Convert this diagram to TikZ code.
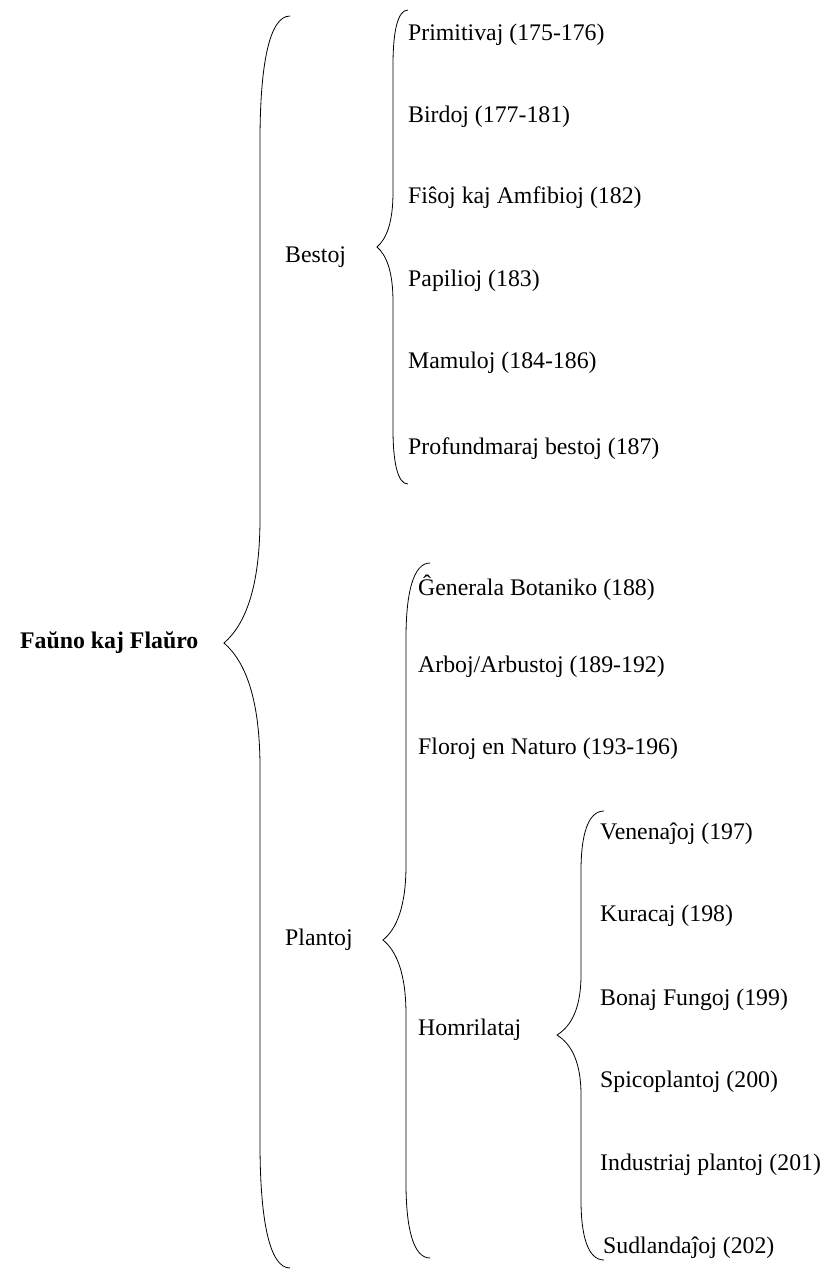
\documentclass[tikz,border=0pt]{standalone}
\usepackage{fontspec}
\setmainfont{Liberation Serif}
\tikzset{
  lbl/.style={anchor=west, inner sep=0pt, font=\fontsize{23.8}{28}\selectfont},
  rootlbl/.style={lbl, font=\fontsize{23.8}{28}\selectfont\bfseries},
  brace/.style={line width=0.8pt, black}
}
% #1 end x, #2 vertical x, #3 tip x, #4 top y, #5 tip y, #6 bottom y, #7 straight offset
\newcommand{\mybrace}[7]{%
  \draw[brace] (#1pt,-#4pt) .. controls ({#2pt+0.3*(#1pt-#2pt)},-#4pt) and (#2pt,{-#4pt-0.4*#7pt}) .. (#2pt,{-#4pt-#7pt})
    -- (#2pt,{-#5pt+#7pt})
    .. controls (#2pt,{-#5pt+0.45*#7pt}) and ({#2pt-0.4*(#2pt-#3pt)},{-#5pt+0.15*#7pt}) .. (#3pt,-#5pt)
    .. controls ({#2pt-0.4*(#2pt-#3pt)},{-#5pt-0.15*#7pt}) and (#2pt,{-#5pt-0.45*#7pt}) .. (#2pt,{-#5pt-#7pt})
    -- (#2pt,{-#6pt+#7pt})
    .. controls (#2pt,{-#6pt+0.4*#7pt}) and ({#2pt+0.3*(#1pt-#2pt)},-#6pt) .. (#1pt,-#6pt);}
\begin{document}
\begin{tikzpicture}[x=1pt,y=1pt]
\useasboundingbox (0,0) rectangle (837,-1270);
% braces
\mybrace{290}{260}{224}{16}{643}{1268}{125}
\mybrace{408}{393}{377}{10}{247}{484}{55}
\mybrace{430}{406}{383}{563}{940}{1258}{75}
\mybrace{604}{581}{557}{811}{1035}{1260}{60}
% labels
\node[rootlbl] (root) at (20,-643) {Faŭno kaj Flaŭro};
\node[lbl] (bestoj) at (285,-257) {Bestoj};
\node[lbl] (b1) at (408,-35) {Primitivaj (175-176)};
\node[lbl] (b2) at (408,-117) {Birdoj (177-181)};
\node[lbl] (b3) at (408,-198) {Fiŝoj kaj Amfibioj (182)};
\node[lbl] (b4) at (408,-281) {Papilioj (183)};
\node[lbl] (b5) at (408,-363) {Mamuloj (184-186)};
\node[lbl] (b6) at (408,-449) {Profundmaraj bestoj (187)};
\node[lbl] (plantoj) at (285,-940) {Plantoj};
\node[lbl] (p1) at (418,-588) {Ĝenerala Botaniko (188)};
\node[lbl] (p2) at (418,-667) {Arboj/Arbustoj (189-192)};
\node[lbl] (p3) at (418,-749) {Floroj en Naturo (193-196)};
\node[lbl] (homr) at (418,-1030) {Homrilataj};
\node[lbl] (h1) at (600,-834) {Venenaĵoj (197)};
\node[lbl] (h2) at (600,-916) {Kuracaj (198)};
\node[lbl] (h3) at (600,-1000) {Bonaj Fungoj (199)};
\node[lbl] (h4) at (600,-1082) {Spicoplantoj (200)};
\node[lbl] (h5) at (600,-1165) {Industriaj plantoj (201)};
\node[lbl] (h6) at (603,-1248) {Sudlandaĵoj (202)};
\end{tikzpicture}
\end{document}
